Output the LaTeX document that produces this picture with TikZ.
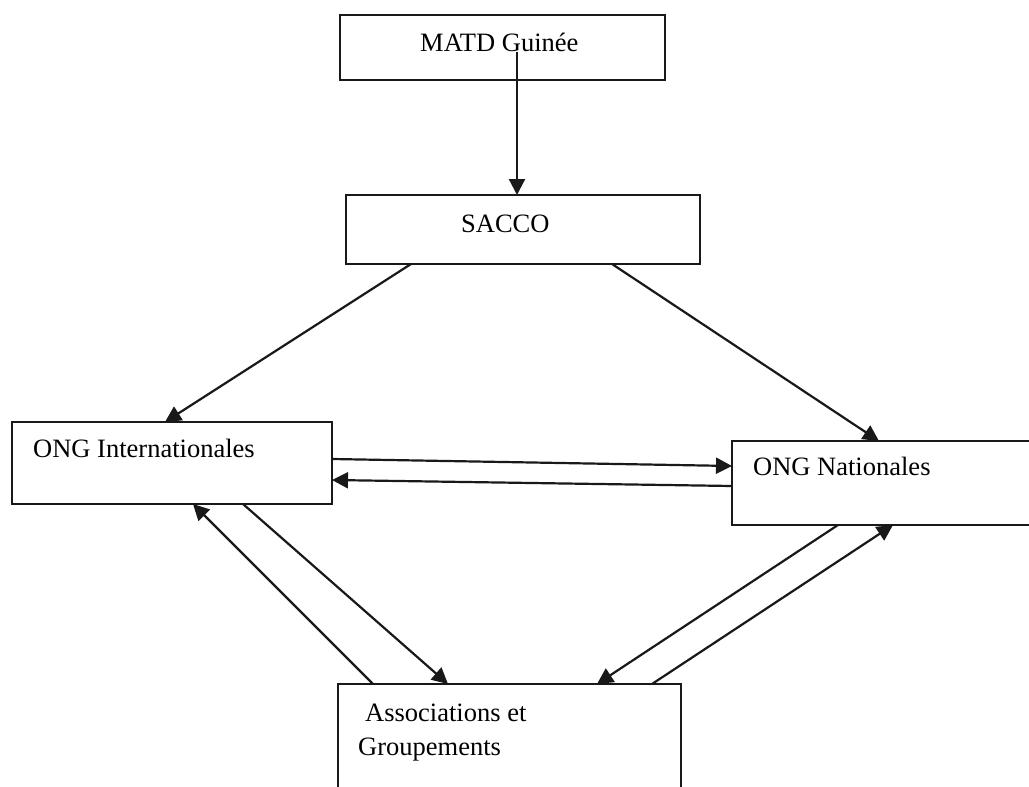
\documentclass[tikz,border=0pt]{standalone}
\usepackage{fontspec}
\setmainfont{Liberation Serif}
\usetikzlibrary{arrows.meta,calc}
\begin{document}
\begin{tikzpicture}[x=1pt,y=-1pt,
  box/.style={draw=black!90,line width=2.2pt,inner sep=0pt,outer sep=0pt},
  lbl/.style={anchor=base west,inner sep=0pt,font=\fontsize{26.5}{30}\selectfont},
  conn/.style={draw=black!90,line width=2.2pt,-{Triangle[length=16pt,width=16pt]}}]
\clip (0,0) rectangle (1029,787);
\fill[white] (0,0) rectangle (1029,787);
\node[box,minimum width=325pt,minimum height=65pt] (matd) at (502.5,47.5) {};
\node[box,minimum width=354pt,minimum height=69pt] (sacco) at (523,229.5) {};
\node[box,minimum width=320pt,minimum height=82pt] (ongi) at (172,463) {};
\node[box,minimum width=308pt,minimum height=84pt] (ongn) at (886,483) {};
\node[box,minimum width=343pt,minimum height=116pt] (assoc) at (509.5,742) {};
\node[lbl] (tmatd) at (420,51) {MATD Guinée};
\node[lbl] (tsacco) at (461,232) {SACCO};
\node[lbl] (tongi) at (33,457) {ONG Internationales};
\node[lbl] (tongn) at (753,475) {ONG Nationales};
\node[lbl] (tassoc1) at (365,721) {Associations et};
\node[lbl] (tassoc2) at (358,755) {Groupements};
\draw[conn] ($(matd.center)+(14.5,4.5)$) -- ($(sacco.north west)+(171,0)$);
\draw[conn] ($(sacco.south west)+(65,0)$) -- ($(ongi.north west)+(153,0)$);
\draw[conn] ($(sacco.south west)+(266,0)$) -- ($(ongn.north west)+(147,0)$);
\draw[conn] ($(ongi.north east)+(0,37)$) -- ($(ongn.north west)+(0,25)$);
\draw[conn] ($(ongn.north west)+(0,45)$) -- ($(ongi.north east)+(0,58)$);
\draw[conn] ($(assoc.north west)+(35,0)$) -- ($(ongi.south west)+(181,0)$);
\draw[conn] ($(ongi.south west)+(231,0)$) -- ($(assoc.north west)+(110,0)$);
\draw[conn] ($(ongn.south west)+(106,0)$) -- ($(assoc.north west)+(259,0)$);
\draw[conn] ($(assoc.north west)+(314,0)$) -- ($(ongn.south west)+(161,0)$);
\end{tikzpicture}
\end{document}
